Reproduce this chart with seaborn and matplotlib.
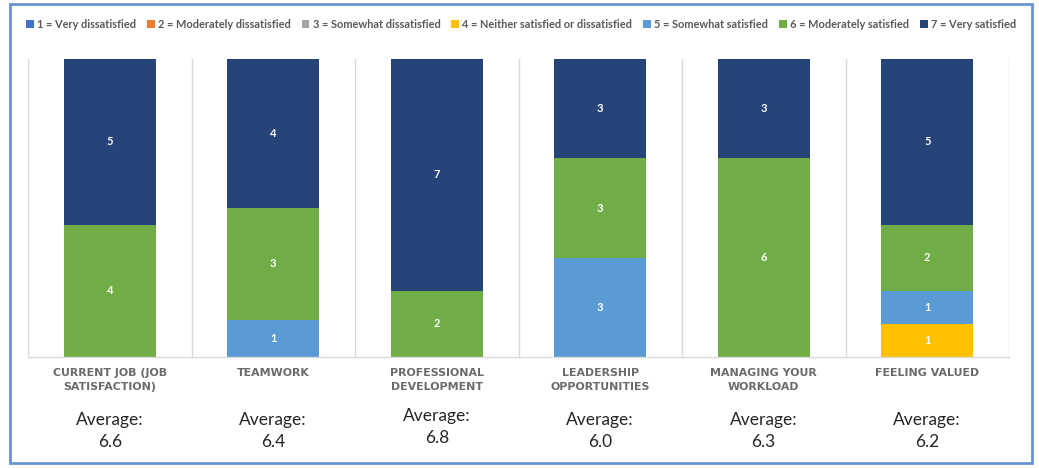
import numpy as np
import pandas as pd
import matplotlib
matplotlib.use("Agg")
import matplotlib.pyplot as plt
import matplotlib.transforms as mtransforms
from matplotlib.patches import Rectangle, Patch
import seaborn as sns

categories = ["CURRENT JOB (JOB\nSATISFACTION)", "TEAMWORK", "PROFESSIONAL\nDEVELOPMENT",
              "LEADERSHIP\nOPPORTUNITIES", "MANAGING YOUR\nWORKLOAD", "FEELING VALUED"]
levels = ["1 = Very dissatisfied", "2 = Moderately dissatisfied", "3 = Somewhat dissatisfied",
          "4 = Neither satisfied or dissatisfied", "5 = Somewhat satisfied",
          "6 = Moderately satisfied", "7 = Very satisfied"]
colors = ["#4472C4", "#ED7D31", "#A5A5A5", "#FFC000", "#5B9BD5", "#70AD47", "#264478"]

# counts per level (rows: level 1..7, cols: categories)
level1 = [0, 0, 0, 0, 0, 0]
level2 = [0, 0, 0, 0, 0, 0]
level3 = [0, 0, 0, 0, 0, 0]
level4 = [0, 0, 0, 0, 0, 1]
level5 = [0, 1, 0, 3, 0, 1]
level6 = [4, 3, 2, 3, 6, 2]
level7 = [5, 4, 7, 3, 3, 5]
averages = ["6.6", "6.4", "6.8", "6.0", "6.3", "6.2"]

counts = np.array([level1, level2, level3, level4, level5, level6, level7], dtype=float)
totals = counts.sum(axis=0)
shares = counts / totals
cum = np.cumsum(shares, axis=0)

sns.set_theme(style="white")
plt.rcParams["font.family"] = ["Lato", "DejaVu Sans"]

fig = plt.figure(figsize=(10.39, 4.68), dpi=100)
ax = fig.add_axes([28 / 1039, 1 - 357 / 468, (1009 - 28) / 1039, (357 - 59) / 468])

df_rows = []
for li in range(len(levels)):
    for ci, c in enumerate(categories):
        df_rows.append({"cat": c, "level": levels[li], "cum": cum[li, ci]})
df = pd.DataFrame(df_rows)

for li in reversed(range(len(levels))):
    sub = df[df["level"] == levels[li]]
    sns.barplot(data=sub, x="cat", y="cum", order=categories, color=colors[li],
                width=0.56, ax=ax, linewidth=0, saturation=1, errorbar=None)

# segment labels
for li in range(len(levels)):
    for ci in range(len(categories)):
        if counts[li, ci] > 0:
            bottom = cum[li, ci] - shares[li, ci]
            ax.text(ci, bottom + shares[li, ci] / 2, f"{int(counts[li, ci])}",
                    ha="center", va="center", color="white", fontsize=8, fontweight="bold")

ax.set_xlim(-0.5, len(categories) - 0.5)
ax.set_ylim(0, 1)
ax.set_yticks([])
ax.set_xticks([])
ax.set_xlabel("")
ax.set_ylabel("")
for xb in np.arange(-0.5, len(categories), 1.0):
    ax.axvline(xb, color="#D9D9D9", lw=1, zorder=0)
for s in ["top", "left", "right"]:
    ax.spines[s].set_visible(False)
ax.spines["bottom"].set_color("#D9D9D9")
ax.spines["bottom"].set_linewidth(1)

trans = mtransforms.blended_transform_factory(ax.transData, fig.transFigure)
for ci, c in enumerate(categories):
    fig.text(ci, 1 - 368 / 468, c, transform=trans, ha="center", va="top",
             fontsize=7.9, fontweight="bold", color="#6b6b6b", linespacing=1.45,
             family=["DejaVu Sans"])
for ci, a in enumerate(averages):
    ytop = 408 if ci == 2 else 412
    fig.text(ci, 1 - ytop / 468, f"Average:\n{a}", transform=trans, ha="center", va="top",
             fontsize=12.5, color="#262626", linespacing=1.45)

handles = [Patch(facecolor=colors[i], edgecolor="none", label=levels[i]) for i in range(len(levels))]
leg = fig.legend(handles=handles, loc="center", bbox_to_anchor=(521 / 1039, 1 - 24 / 468),
                 ncol=7, frameon=False, fontsize=7.9, handlelength=0.7, handleheight=0.7,
                 handletextpad=0.3, columnspacing=1.0, borderaxespad=0)
for t in leg.get_texts():
    t.set_color("#595959")
    t.set_fontweight("bold")

fig.patches.append(Rectangle((10 / 1039, 1 - 463 / 468), (1032 - 10) / 1039, (463 - 4) / 468,
                             transform=fig.transFigure, fill=False, edgecolor="#6A93D4", lw=2))

fig.savefig("out.png", dpi=100)
